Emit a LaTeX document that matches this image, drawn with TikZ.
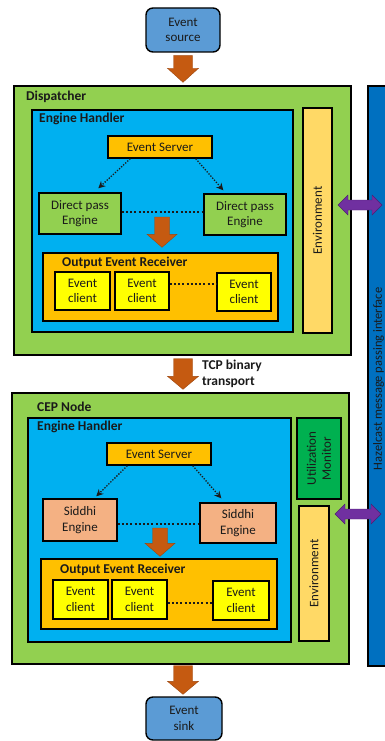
\documentclass[tikz,border=0pt]{standalone}
\usepackage{fontspec}
\setmainfont{Carlito}
\usetikzlibrary{arrows.meta,calc}
\definecolor{cgreen}{HTML}{92D050}
\definecolor{cblue}{HTML}{00B0F0}
\definecolor{cenv}{HTML}{FFD966}
\definecolor{corange}{HTML}{FFC000}
\definecolor{cyellow}{HTML}{FFFF00}
\definecolor{csiddhi}{HTML}{F4B183}
\definecolor{cutil}{HTML}{00B050}
\definecolor{csrc}{HTML}{5B9BD5}
\definecolor{chz}{HTML}{0070C0}
\definecolor{carrow}{HTML}{C55A11}
\definecolor{carrowedge}{HTML}{9E470D}
\definecolor{cpurple}{HTML}{7030A0}
\definecolor{cpurpleedge}{HTML}{4E2070}
\definecolor{ctext}{HTML}{1A1A1A}
\begin{document}
\begin{tikzpicture}[x=1pt,y=-1pt,
  box/.style={draw=black, line width=1.4pt, inner sep=0pt, align=center, text=ctext,
              font=\fontsize{13}{15.5}\selectfont},
  sz/.style 2 args={minimum width=#1pt, minimum height=#2pt},
  title/.style={anchor=west, inner sep=0pt, text=ctext, font=\fontsize{13.5}{15}\selectfont\bfseries},
  vtext/.style={rotate=90, inner sep=0pt, align=center, text=ctext, font=\fontsize{13}{15}\selectfont},
  dotline/.style={line width=2pt, dash pattern=on 2pt off 2.2pt, draw=ctext},
  dotarrow/.style={line width=1.3pt, dash pattern=on 1.3pt off 1.5pt, draw=ctext,
                   -{Stealth[length=7pt,width=7pt]}},
  blockdown/.style n args={3}{fill=carrow, draw=carrowedge, line width=0.4pt,
    to path={let \p1=(\tikztostart), \p2=(\tikztotarget) in
      (\x1-#1pt,\y1) -- (\x1+#1pt,\y1) -- (\x1+#1pt,\y2+#3pt) -- (\x1+#2pt,\y2+#3pt)
      -- (\x1,\y2) -- (\x1-#2pt,\y2+#3pt) -- (\x1-#1pt,\y2+#3pt) -- cycle}},
  blockboth/.style={fill=cpurple, draw=cpurpleedge, line width=0.4pt,
    to path={let \p1=(\tikztostart), \p2=(\tikztotarget) in
      (\x1,\y1) -- (\x1+10pt,\y1+10pt) -- (\x1+10pt,\y1+5pt) -- (\x2-10pt,\y1+5pt)
      -- (\x2-10pt,\y1+10pt) -- (\x2,\y1) -- (\x2-10pt,\y1-10pt) -- (\x2-10pt,\y1-5pt)
      -- (\x1+10pt,\y1-5pt) -- (\x1+10pt,\y1-10pt) -- cycle}}
]
\useasboundingbox (0,0) rectangle (385,741);
\clip (0,0) rectangle (385,741);
\fill[white] (0,0) rectangle (385,741);

% Hazelcast bar
\node[box, fill=chz, sz={24}{580}] (hz) at (380,376) {};
\node[vtext, font=\fontsize{12.5}{15}\selectfont] (hzt) at (378.5,379) {Hazelcast message passing interface};

% Event source
\node[box, fill=csrc, rounded corners=7pt, sz={74}{44}] (src) at (183,30) {Event\\source};

% Dispatcher
\node[box, fill=cgreen, sz={337}{269}] (disp) at (182.5,220.5) {};
\node[title] (dispt) at (26,97) {Dispatcher};
\node[box, fill=cblue, sz={261}{222}] (eh1) at (162.5,221) {};
\node[title] (eh1t) at (39,119) {Engine Handler};
\node[box, fill=cenv, sz={29}{225}] (env1) at (317.5,220.5) {};
\node[vtext] (env1t) at (env1) {Environment};
\node[box, fill=corange, sz={104}{22}] (es1) at (160,147) {Event Server};
\node[box, fill=cgreen, sz={82}{41}] (dpl) at (80,213.5) {Direct pass\\Engine};
\node[box, fill=cgreen, sz={82}{41}] (dpr) at (245,214.5) {Direct pass\\Engine};
\node[box, fill=corange, sz={235}{68}] (oer1) at (160.5,287) {};
\node[title] (oer1t) at (62,263) {Output Event Receiver};
\node[box, fill=cyellow, sz={55}{38}] (c11) at (82.5,291) {Event\\client};
\node[box, fill=cyellow, sz={54}{38}] (c12) at (142,291) {Event\\client};
\node[box, fill=cyellow, sz={54}{38}] (c13) at (244,292) {Event\\client};

\draw[dotarrow] ([xshift=23pt]es1.south west) -- ([xshift=60pt,yshift=4pt]dpl.north west);
\draw[dotarrow] ([xshift=-17pt]es1.south east) -- ([xshift=20pt,yshift=3pt]dpr.north west);
\draw[dotline] (dpl.east |- 0,212) -- (dpr.west |- 0,212);
\draw[dotline] (c12.east |- 0,284) -- (c13.west |- 0,284);
\coordinate (ia1s) at (162,217);
\draw[blockdown={7.5}{15}{13}] (ia1s) to ([yshift=5pt]oer1.north -| ia1s);

% top arrow
\draw[blockdown={9.5}{15.5}{14}] ([yshift=-3pt]src.south) to ([yshift=3pt]disp.north -| src);

% TCP arrow
\node[anchor=west, inner sep=0pt, align=left, text=ctext, font=\fontsize{13.5}{16}\selectfont\bfseries] (tcp) at (202,374) {TCP binary\\transport};

% CEP node
\node[box, fill=cgreen, sz={337}{271}] (cep) at (180.5,528.5) {};
\node[title] (cept) at (37,407) {CEP Node};
\draw[blockdown={9.5}{15.5}{13}] ([yshift=-3pt]disp.south -| src) to ([yshift=3pt]cep.north -| src);
\node[box, fill=cblue, sz={263}{224}] (eh2) at (159.5,530) {};
\node[title] (eh2t) at (37,427) {Engine Handler};
\node[box, fill=cutil, sz={44}{81}] (um) at (319,458.5) {};
\node[vtext] (umt) at (um) {Utilization\\Monitor};
\node[box, fill=cenv, sz={30}{135}] (env2) at (314,573.5) {};
\node[vtext] (env2t) at (env2) {Environment};
\node[box, fill=corange, sz={104}{22}] (es2) at (159,454) {Event Server};
\node[box, fill=csiddhi, sz={74}{42}] (sdl) at (80,520) {Siddhi\\Engine};
\node[box, fill=csiddhi, sz={76}{40}] (sdr) at (238,523) {Siddhi\\Engine};
\node[box, fill=corange, sz={236}{70}] (oer2) at (159,594) {};
\node[title] (oer2t) at (60,570) {Output Event Receiver};
\node[box, fill=cyellow, sz={55}{39}] (c21) at (80.5,599.5) {Event\\client};
\node[box, fill=cyellow, sz={55}{39}] (c22) at (139.5,599.5) {Event\\client};
\node[box, fill=cyellow, sz={56}{39}] (c23) at (241,600.5) {Event\\client};

\draw[dotarrow] ([xshift=21pt]es2.south west) -- ([xshift=54pt,yshift=2pt]sdl.north west);
\draw[dotarrow] ([xshift=-19pt]es2.south east) -- ([xshift=22pt,yshift=4pt]sdr.north west);
\draw[dotline] (sdl.east |- 0,524) -- (sdr.west |- 0,524);
\draw[dotline] (c22.east |- 0,603) -- (c23.west |- 0,603);
\coordinate (ia2s) at (160,528);
\draw[blockdown={7.5}{15}{13}] (ia2s) to ([yshift=2pt]oer2.north -| ia2s);

% bottom arrow and sink
\node[box, fill=csrc, rounded corners=7pt, sz={76}{43}] (sink) at (184,718.5) {Event\\sink};
\draw[blockdown={9.5}{15.5}{13}] ([yshift=-1pt]cep.south -| src) to ([yshift=2pt]sink.north -| src);

% purple double arrows
\coordinate (pa1) at (338,205);
\coordinate (pb1) at (382,205);
\draw[blockboth] (pa1) to (pb1);
\coordinate (pa2) at (335,514);
\coordinate (pb2) at (381,514);
\draw[blockboth] (pa2) to (pb2);
\end{tikzpicture}
\end{document}
